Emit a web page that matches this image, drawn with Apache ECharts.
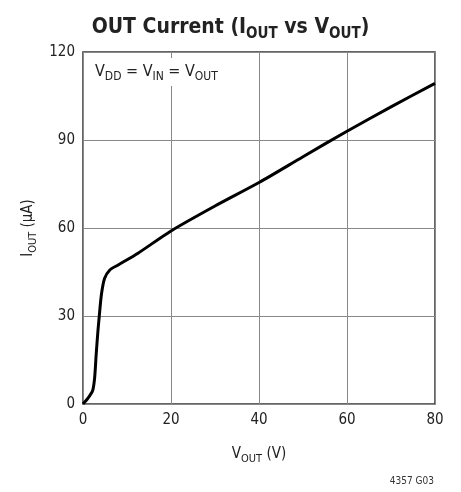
<!DOCTYPE html>
<html>
<head>
<meta charset="utf-8">
<script src="https://cdn.jsdelivr.net/npm/echarts@6/dist/echarts.min.js"></script>
<style>
html,body{margin:0;padding:0;background:#fff;}
#c{width:461px;height:492px;}
</style>
</head>
<body>
<div id="c"></div>
<script>
const vout = [0, 1.1, 2.2, 2.65, 3.0, 3.4, 3.7, 4.2, 4.9, 6.1, 8, 12.5, 20, 30, 40, 50, 60, 70, 80];
const iout = [0, 1.9, 4.6, 9, 17, 25, 30, 37.5, 42.8, 45.7, 47.4, 51.4, 59, 67.5, 75.5, 84.3, 93, 101.3, 109.3];
const xTicks = [0, 20, 40, 60, 80];
const yTicks = [0, 30, 60, 90, 120];

const FONT = '"Liberation Sans Narrow", "DejaVu Sans Condensed", "Roboto", sans-serif';
const chart = echarts.init(document.getElementById('c'), null, {renderer: 'canvas'});
const pts = vout.map((v, k) => [v, iout[k]]);

chart.setOption({
  backgroundColor: '#fff',
  animation: false,
  title: {
    text: '{m|OUT Current (I}{s|OUT}{m| vs V}{s|OUT}{m|)}',
    left: 'center',
    top: 7,
    textStyle: {
      rich: {
        m: {fontFamily: FONT, fontWeight: 'bold', fontSize: 21, color: '#222', lineHeight: 26, verticalAlign: 'bottom'},
        s: {fontFamily: FONT, fontWeight: 'bold', fontSize: 15, color: '#222', lineHeight: 20, verticalAlign: 'bottom', padding: [0, 0, -4, 0]}
      }
    }
  },
  grid: {left: 83, top: 52, width: 352, height: 352, show: true, borderColor: '#333', borderWidth: 1.5, backgroundColor: 'transparent'},
  xAxis: {
    type: 'value', min: 0, max: 80, interval: 20,
    axisLine: {show: false}, axisTick: {show: false},
    splitLine: {show: true, lineStyle: {color: '#888', width: 1}},
    axisLabel: {fontFamily: FONT, fontSize: 15, color: '#222', margin: 9},
    name: '{m|V}{s|OUT}{m| (V)}',
    nameLocation: 'middle', nameGap: 38,
    nameTextStyle: {rich: {
      m: {fontFamily: FONT, fontSize: 15, color: '#222', lineHeight: 20, verticalAlign: 'bottom'},
      s: {fontFamily: FONT, fontSize: 11, color: '#222', lineHeight: 14, verticalAlign: 'bottom', padding: [0, 0, -3, 0]}
    }}
  },
  yAxis: {
    type: 'value', min: 0, max: 120, interval: 30,
    axisLine: {show: false}, axisTick: {show: false},
    splitLine: {show: true, lineStyle: {color: '#888', width: 1}},
    axisLabel: {fontFamily: FONT, fontSize: 15, color: '#222', margin: 8},
    name: '{m|I}{s|OUT}{m| (μA)}',
    nameLocation: 'middle', nameGap: 46, nameRotate: 90,
    nameTextStyle: {rich: {
      m: {fontFamily: FONT, fontSize: 15, color: '#222', lineHeight: 20, verticalAlign: 'bottom'},
      s: {fontFamily: FONT, fontSize: 11, color: '#222', lineHeight: 14, verticalAlign: 'bottom', padding: [0, 0, -3, 0]}
    }}
  },
  graphic: [
    {
      type: 'text', left: 91, top: 58, z: 10,
      style: {
        text: '{m|V}{s|DD}{m| = V}{s|IN}{m| = V}{s|OUT}',
        backgroundColor: '#fff', padding: [2, 4, 6, 4],
        rich: {
          m: {fontFamily: FONT, fontSize: 16, fill: '#222', lineHeight: 20, verticalAlign: 'bottom'},
          s: {fontFamily: FONT, fontSize: 12, fill: '#222', lineHeight: 16, verticalAlign: 'bottom', padding: [0, 0, -3, 0]}
        }
      }
    },
    {
      type: 'text', right: 27, top: 476,
      style: {text: '4357 G03', fontFamily: FONT, fontSize: 10, fill: '#333'}
    }
  ],
  series: [{
    type: 'line', data: pts, showSymbol: false, smooth: 0.25,
    lineStyle: {color: '#000', width: 3}, clip: true
  }]
});
</script>
</body>
</html>
